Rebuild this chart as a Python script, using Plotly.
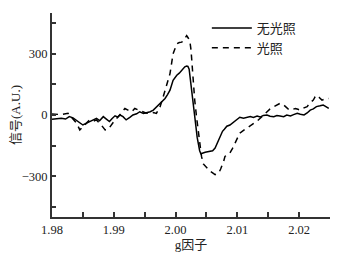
import plotly.graph_objects as go

# 无光照 (solid)
g_dark = [1.9800, 1.9808, 1.9815, 1.9822, 1.9828, 1.9834, 1.9839, 1.9845, 1.9850, 1.9856,
          1.9861, 1.9867, 1.9872, 1.9877, 1.9883, 1.9888, 1.9893, 1.9897, 1.9902, 1.9906,
          1.9910, 1.9915, 1.9920, 1.9926, 1.9931, 1.9937, 1.9942, 1.9948, 1.9953, 1.9959,
          1.9964, 1.9969, 1.9975, 1.9979, 1.9983, 1.9987, 1.9991, 1.9996, 2.0002, 2.0006,
          2.0010, 2.0013, 2.0015, 2.0018, 2.0020, 2.0022, 2.0024, 2.0026, 2.0029, 2.0031,
          2.0033, 2.0035, 2.0037, 2.0039, 2.0041, 2.0044, 2.0048, 2.0052, 2.0056, 2.0060,
          2.0064, 2.0067, 2.0070, 2.0073, 2.0076, 2.0079, 2.0083, 2.0088, 2.0094, 2.0099,
          2.0104, 2.0110, 2.0115, 2.0121, 2.0126, 2.0132, 2.0137, 2.0142, 2.0148, 2.0153,
          2.0159, 2.0164, 2.0169, 2.0175, 2.0180, 2.0186, 2.0191, 2.0197, 2.0202, 2.0208,
          2.0213, 2.0218, 2.0223, 2.0228, 2.0234, 2.0239, 2.0242, 2.0245, 2.0248]
s_dark = [-21, -18, -16, -20, -8, -14, -24, -38, -49, -40,
          -32, -22, -16, -28, -8, -20, -32, -18, -4, -10,
          0, -8, -24, -12, 0, 6, 16, 8, 11, 16,
          24, 38, 57, 70, 81, 100, 122, 170, 195, 205,
          219, 228, 236, 240, 238, 225, 175, 125, 73, 10,
          -57, -110, -154, -175, -190, -186, -183, -180, -178, -175,
          -162, -140, -122, -98, -80, -70, -55, -49, -36, -24,
          -11, -16, -14, -8, -12, -5, -10, -2, 0, -6,
          -8, -3, -5, -8, 0, -5, 2, 8, 4, 0,
          10, 24, 30, 41, 45, 49, 44, 38, 32]

# 光照 (dashed)
g_light = [1.9800, 1.9815, 1.9826, 1.9834, 1.9840, 1.9845, 1.9853, 1.9861, 1.9867, 1.9872,
           1.9880, 1.9886, 1.9891, 1.9897, 1.9902, 1.9907, 1.9912, 1.9918, 1.9923, 1.9929,
           1.9934, 1.9940, 1.9945, 1.9952, 1.9958, 1.9964, 1.9969, 1.9975, 1.9980, 1.9985,
           1.9991, 1.9996, 2.0002, 2.0006, 2.0010, 2.0014, 2.0018, 2.0021, 2.0023, 2.0025,
           2.0027, 2.0029, 2.0031, 2.0034, 2.0037, 2.0040, 2.0042, 2.0045, 2.0048, 2.0052,
           2.0056, 2.0060, 2.0064, 2.0067, 2.0070, 2.0073, 2.0075, 2.0078, 2.0080, 2.0084,
           2.0088, 2.0092, 2.0096, 2.0100, 2.0104, 2.0110, 2.0115, 2.0121, 2.0126, 2.0132,
           2.0137, 2.0143, 2.0148, 2.0153, 2.0159, 2.0164, 2.0169, 2.0174, 2.0178, 2.0182,
           2.0186, 2.0190, 2.0194, 2.0198, 2.0202, 2.0208, 2.0213, 2.0218, 2.0223, 2.0226,
           2.0229, 2.0233, 2.0237, 2.0241, 2.0245, 2.0248]
s_light = [5, 2, 8, -20, -41, -73, -50, -24, -30, -24,
           -50, -73, -70, -45, -24, -10, 8, 32, 24, 16,
           32, 25, 16, 10, 8, 12, 8, 41, 89, 138,
           203, 300, 349, 355, 357, 370, 389, 375, 365, 320,
           235, 150, 73, -10, -89, -150, -203, -240, -251, -265,
           -276, -284, -292, -288, -284, -265, -251, -225, -203, -192,
           -186, -165, -138, -110, -89, -75, -65, -55, -41, -30,
           -16, 0, 16, 30, 41, 50, 57, 52, 41, 30,
           24, 30, 32, 28, 24, 35, 41, 60, 73, 90,
           97, 85, 73, 78, 81, 81]

x_ticks = [1.98, 1.985, 1.99, 1.995, 2.00, 2.005, 2.01, 2.015, 2.02, 2.025]
x_labels = ["1.98", "", "1.99", "", "2.00", "", "2.01", "", "2.02", ""]
y_ticks = [-450, -300, -150, 0, 150, 300, 450, 500]
y_labels = ["", "\u2212300", "", "0", "", "300", "", ""]

serif = "Liberation Serif"
font_fam = "Liberation Serif, Noto Sans CJK SC"

fig = go.Figure()
fig.add_trace(go.Scatter(x=g_dark, y=s_dark, mode="lines", name="无光照",
                         line=dict(color="black", width=1.5)))
fig.add_trace(go.Scatter(x=g_light, y=s_light, mode="lines", name="光照",
                         line=dict(color="black", width=1.5, dash="6px,5px")))

fig.update_layout(
    width=337, height=250,
    margin=dict(l=44, r=15, t=5, b=41),
    plot_bgcolor="white", paper_bgcolor="white",
    font=dict(family=font_fam, size=12, color="#222"),
    showlegend=True,
    legend=dict(x=0.557, y=1.0, xanchor="left", yanchor="top",
                bgcolor="rgba(0,0,0,0)", font=dict(size=13, family=font_fam),
                tracegroupgap=0, itemwidth=40),
    xaxis=dict(range=[1.98, 2.025], tickvals=x_ticks, ticktext=x_labels,
               ticks="inside", ticklen=5, tickwidth=1.5, tickcolor="#333",
               tickfont=dict(family=serif, size=12.5),
               showline=True, linecolor="#333", linewidth=1.8,
               showgrid=False, zeroline=False, automargin=False,
               title=dict(text="g因子", font=dict(size=13), standoff=3)),
    yaxis=dict(range=[-500, 500], tickvals=y_ticks, ticktext=y_labels,
               ticks="inside", ticklen=4, tickwidth=1.5, tickcolor="#333",
               tickfont=dict(family=serif, size=12.5),
               showline=True, linecolor="#333", linewidth=1.8,
               showgrid=False, zeroline=False, automargin=False,
               title=dict(text="信号(A.U.)", font=dict(size=13), standoff=8)),
)

fig.write_html("out.html")
